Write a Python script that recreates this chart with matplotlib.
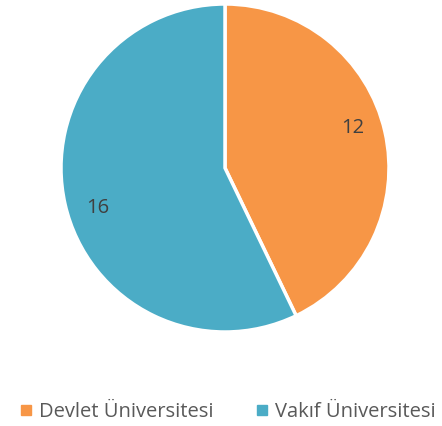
import matplotlib
matplotlib.use("Agg")
import matplotlib.pyplot as plt
from matplotlib.lines import Line2D
import numpy as np

categories = ["Devlet Üniversitesi", "Vakıf Üniversitesi"]
values = [12, 16]
colors = ["#F79646", "#4BACC6"]

plt.rcParams['font.family'] = ['Open Sans', 'DejaVu Sans']

fig = plt.figure(figsize=(4.42, 4.26), dpi=100)
ax = fig.add_axes([61/442, (426-332)/426, 328/442, 328/426])
wedges, texts, autotexts = ax.pie(
    values, colors=colors, startangle=90, counterclock=False,
    autopct=lambda p: f"{p*sum(values)/100:.0f}", pctdistance=0.8,
    wedgeprops=dict(edgecolor="white", linewidth=2.5),
    textprops=dict(color="#404040", fontsize=14.5))
for w, t in zip(wedges, autotexts):
    mid = np.deg2rad((w.theta1 + w.theta2) / 2 + 4.5)
    t.set_position((0.815 * np.cos(mid), 0.815 * np.sin(mid)))
ax.set_xlim(-1, 1)
ax.set_ylim(-1, 1)
ax.set_aspect("equal")

handles = [Line2D([0], [0], marker="s", linestyle="none", markersize=7.5,
                  markerfacecolor=c, markeredgecolor=c) for c in colors]
fig.legend(handles, categories, loc="center", bbox_to_anchor=(0.51, 14/426),
           ncol=2, frameon=False, fontsize=14.5, labelcolor="#595959",
           handletextpad=0.15, columnspacing=1.9, handlelength=1.0)
fig.savefig("out.png", dpi=100)
